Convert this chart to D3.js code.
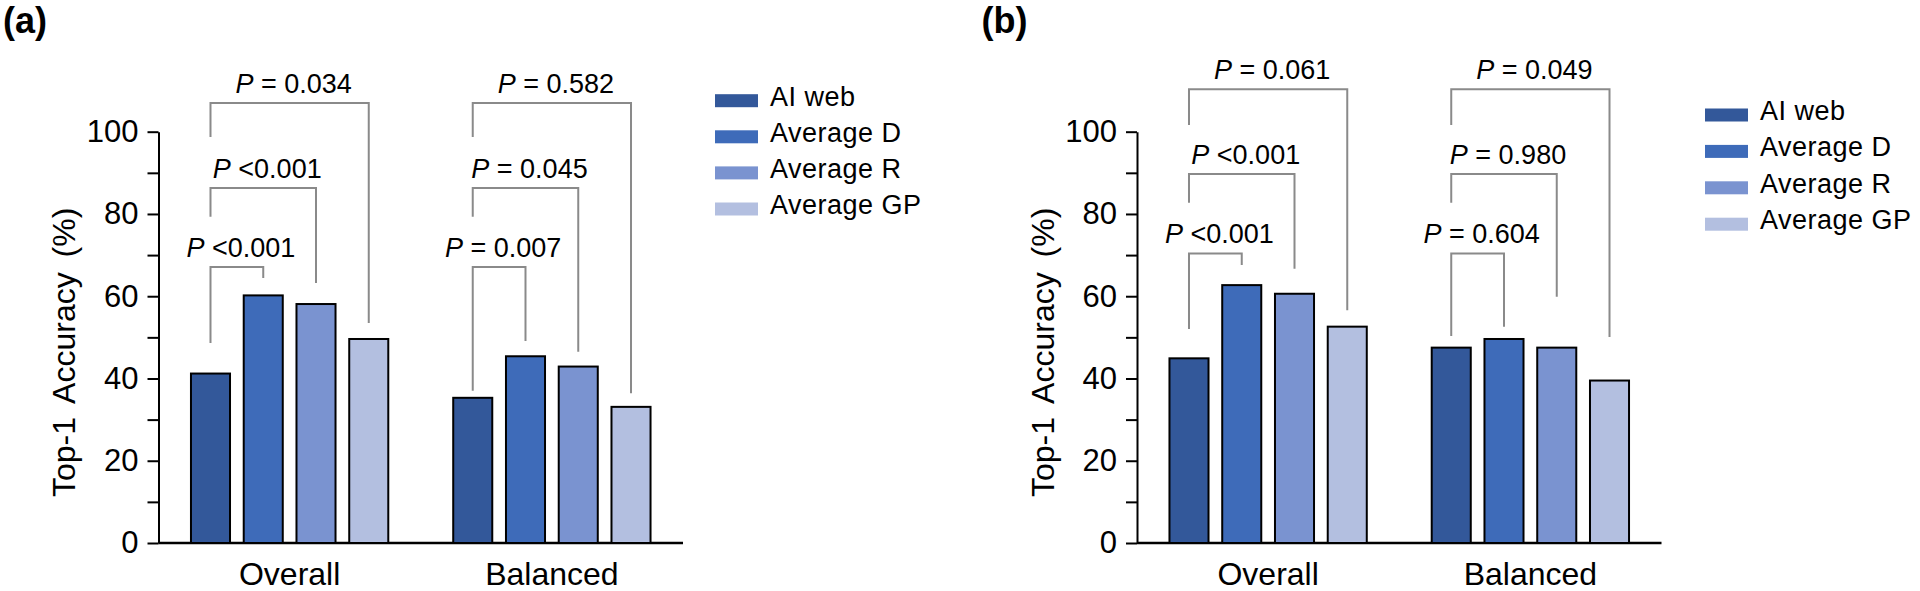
<!DOCTYPE html>
<html>
<head>
<meta charset="utf-8">
<script src="https://cdn.jsdelivr.net/npm/d3@7"></script>
<style>
  html, body { margin: 0; padding: 0; background: #ffffff; }
  svg { display: block; }
  text { font-family: "Liberation Sans", Arial, Helvetica, sans-serif; fill: #000; }
</style>
</head>
<body>
<svg id="chart" width="1920" height="591"></svg>
<script>
// ---------------- DATA ----------------
const categories = ["Overall", "Balanced"];
const seriesNames = ["AI web", "Average D", "Average R", "Average GP"];
const seriesColors = ["#33589a", "#3e6bb9", "#7a93d0", "#b3bfe0"];

const yTickValues = [0, 20, 40, 60, 80, 100];
const yMinorTickValues = [10, 30, 50, 70, 90];

// Panel (a)
const aOverall = [41.2, 60.2, 58.1, 49.6];
const aBalanced = [35.3, 45.4, 42.9, 33.1];
// P-values: comparisons of AI web vs Average D, Average R, Average GP
const aOverallP = ["<0.001", "<0.001", "= 0.034"];
const aBalancedP = ["= 0.007", "= 0.045", "= 0.582"];
// bracket heights (in % units) for the three comparisons
const aBracketTop = [67.1, 86.3, 107.0];
const aOverallLeftEnd = [48.6, 79.3, 98.7];
const aOverallRightEnd = [64.4, 63.2, 53.5];
const aBalancedLeftEnd = [37.0, 79.3, 98.7];
const aBalancedRightEnd = [49.1, 46.5, 36.4];

// Panel (b)
const bOverall = [44.9, 62.7, 60.6, 52.6];
const bBalanced = [47.5, 49.6, 47.5, 39.5];
const bOverallP = ["<0.001", "<0.001", "= 0.061"];
const bBalancedP = ["= 0.604", "= 0.980", "= 0.049"];
const bBracketTop = [70.4, 89.7, 110.3];
const bOverallLeftEnd = [52.0, 82.7, 101.6];
const bOverallRightEnd = [67.6, 66.7, 56.6];
const bBalancedLeftEnd = [50.3, 82.7, 101.6];
const bBalancedRightEnd = [52.6, 59.9, 50.1];

// ---------------- DRAW ----------------
const svg = d3.select("#chart");
const FONT = '"Liberation Sans", Arial, Helvetica, sans-serif';

const y = d3.scaleLinear().domain([0, 100]).range([543, 131.7]);
const axisX = 158.5, axisEnd = 683;

const x0 = d3.scaleBand().domain(categories).range([axisX, axisEnd])
  .paddingInner(0.24).paddingOuter(0.12);
const x1 = d3.scaleBand().domain(seriesNames).range([0, x0.bandwidth()])
  .paddingInner(0.222).paddingOuter(0);
const color = d3.scaleOrdinal().domain(seriesNames).range(seriesColors);

function drawPanel(g, label, groups, pvals, tops, leftEnds, rightEnds) {
  // panel label
  g.append("text").attr("x", 3).attr("y", 33)
    .style("font-weight", "bold").style("font-size", "36px").text(label);

  // y axis
  const allTicks = yTickValues.concat(yMinorTickValues).sort((a, b) => a - b);
  const yAxis = d3.axisLeft(y).tickValues(allTicks).tickSize(11).tickSizeOuter(0)
    .tickPadding(9)
    .tickFormat(d => yTickValues.includes(d) ? d : "");
  const ga = g.append("g").attr("transform", `translate(${axisX},0)`).call(yAxis);
  ga.select(".domain").attr("stroke", "#000").attr("stroke-width", 2);
  ga.selectAll(".tick line").attr("stroke", "#000").attr("stroke-width", 2);
  ga.selectAll(".tick text").style("font-size", "31px").style("font-family", FONT);

  // x axis baseline
  g.append("line").attr("x1", axisX).attr("x2", axisEnd)
    .attr("y1", y(0)).attr("y2", y(0))
    .attr("stroke", "#000").attr("stroke-width", 2.5);

  // y axis label
  g.append("text")
    .attr("transform", `translate(75,${(y(0) + y(100)) / 2 + 15}) rotate(-90)`)
    .attr("text-anchor", "middle").style("font-size", "32px")
    .style("word-spacing", "6px")
    .text("Top-1 Accuracy (%)");

  // bars
  categories.forEach((cat, ci) => {
    const gx = x0(cat);
    g.append("g").selectAll("rect").data(groups[ci]).join("rect")
      .attr("x", (d, i) => gx + x1(seriesNames[i]) + 1)
      .attr("width", x1.bandwidth() - 2)
      .attr("y", d => y(d))
      .attr("height", d => y(0) - y(d))
      .attr("fill", (d, i) => color(seriesNames[i]))
      .attr("stroke", "#000").attr("stroke-width", 2);

    // category label
    g.append("text").attr("x", gx + x0.bandwidth() / 2).attr("y", 585)
      .attr("text-anchor", "middle").style("font-size", "32px").text(cat);

    // brackets
    const cx = i => gx + x1(seriesNames[i]) + x1.bandwidth() / 2;
    pvals[ci].forEach((p, k) => {
      const xl = cx(0), xr = cx(k + 1);
      const yt = y(tops[k]);
      g.append("path")
        .attr("d", `M${xl},${y(leftEnds[ci][k])}V${yt}H${xr}V${y(rightEnds[ci][k])}`)
        .attr("fill", "none").attr("stroke", "#8a8a8a").attr("stroke-width", 2);
      const t = g.append("text").attr("x", (xl + xr) / 2 + 4).attr("y", yt - 10)
        .attr("text-anchor", "middle").style("font-size", "27px");
      t.append("tspan").style("font-style", "italic").text("P");
      t.append("tspan").text(" " + p);
    });
  });
}

const gA = svg.append("g");
drawPanel(gA, "(a)", [aOverall, aBalanced], [aOverallP, aBalancedP], aBracketTop,
  [aOverallLeftEnd, aBalancedLeftEnd], [aOverallRightEnd, aBalancedRightEnd]);

const gB = svg.append("g").attr("transform", "translate(978.5,0)");
drawPanel(gB, "(b)", [bOverall, bBalanced], [bOverallP, bBalancedP], bBracketTop,
  [bOverallLeftEnd, bBalancedLeftEnd], [bOverallRightEnd, bBalancedRightEnd]);

// legends
function drawLegend(x, y0, step) {
  const lg = svg.append("g").attr("transform", `translate(${x},${y0})`);
  const rows = lg.selectAll("g").data(seriesNames).join("g")
    .attr("transform", (d, i) => `translate(0,${i * step})`);
  rows.append("rect").attr("x", 0).attr("y", -6.5).attr("width", 43).attr("height", 13)
    .attr("fill", d => color(d));
  rows.append("text").attr("x", 55).attr("y", 5)
    .style("font-size", "27px").style("letter-spacing", "0.5px").text(d => d);
}
drawLegend(715, 100.7, 36.1);
drawLegend(1705, 115, 36.4);
</script>
</body>
</html>
